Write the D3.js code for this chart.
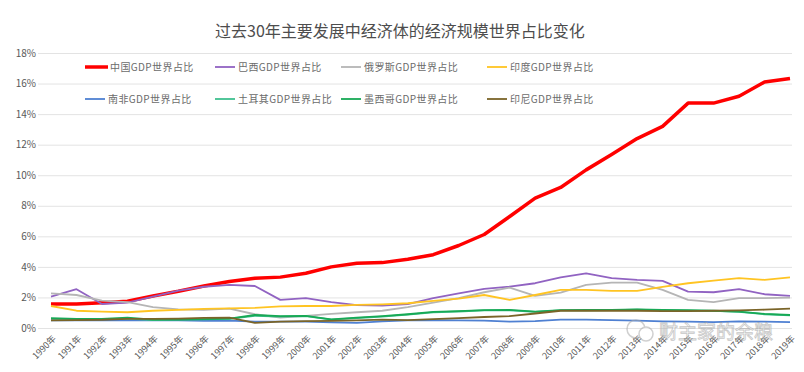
<!DOCTYPE html>
<head>
  <meta charset="utf-8">
  <style>
    body { margin: 0; background: #fff; }
    svg text { font-family: "Noto Sans CJK SC", "DejaVu Sans", sans-serif; }
    .grid line { stroke: #e3e3e3; stroke-width: 1; }
    .axis text { fill: #595959; font-size: 10px; }
    .legend text { fill: #6b6b6b; font-size: 10px; letter-spacing: 0.4px; }
  </style>
  <script src="https://d3js.org/d3.v7.min.js"></script>
</head>

<body>
  <div id="content"></div>
  <script>
  // years on the x axis
  var years = d3.range(1990, 2020);
  var yearLabels = years.map(function(y) { return y + "年"; });

  // share of world GDP, in percent
  var china = [1.57, 1.57, 1.65, 1.75, 2.1, 2.4, 2.75, 3.05, 3.25, 3.33, 3.58, 4.0, 4.24, 4.28, 4.5,
               4.8, 5.4, 6.12, 7.3, 8.5, 9.2, 10.35, 11.35, 12.4, 13.2, 14.72, 14.72, 15.17, 16.1, 16.33];
  var brazil = [2.05, 2.54, 1.57, 1.66, 2.05, 2.45, 2.7, 2.82, 2.75, 1.84, 1.95, 1.7, 1.5, 1.46, 1.57,
                1.95, 2.27, 2.56, 2.71, 2.93, 3.32, 3.58, 3.26, 3.15, 3.08, 2.38, 2.34, 2.54, 2.21, 2.1];
  var russia = [2.27, 2.16, 1.79, 1.7, 1.36, 1.22, 1.18, 1.27, 0.9, 0.68, 0.79, 0.92, 1.03, 1.13, 1.36,
                1.66, 1.95, 2.34, 2.64, 2.1, 2.31, 2.82, 2.97, 2.97, 2.49, 1.84, 1.69, 1.95, 1.95, 1.99];
  var india = [1.44, 1.13, 1.07, 1.03, 1.13, 1.18, 1.25, 1.29, 1.32, 1.42, 1.44, 1.44, 1.51, 1.55, 1.62,
               1.78, 1.92, 2.16, 1.84, 2.16, 2.49, 2.49, 2.43, 2.43, 2.69, 2.93, 3.1, 3.26, 3.15, 3.32];
  var southAfrica = [0.5, 0.5, 0.5, 0.5, 0.5, 0.5, 0.47, 0.48, 0.42, 0.42, 0.42, 0.37, 0.33, 0.43, 0.5,
                     0.52, 0.5, 0.48, 0.42, 0.45, 0.55, 0.55, 0.52, 0.48, 0.44, 0.42, 0.39, 0.43, 0.42, 0.38];
  var turkey = [0.6, 0.58, 0.58, 0.62, 0.52, 0.55, 0.56, 0.6, 0.8, 0.75, 0.78, 0.55, 0.65, 0.75, 0.88,
                1.02, 1.08, 1.15, 1.15, 1.05, 1.15, 1.16, 1.17, 1.2, 1.16, 1.14, 1.12, 1.05, 0.9, 0.83];
  var mexico = [0.64, 0.6, 0.6, 0.68, 0.55, 0.55, 0.58, 0.62, 0.85, 0.78, 0.8, 0.57, 0.68, 0.78, 0.9,
                1.05, 1.1, 1.17, 1.18, 1.07, 1.17, 1.18, 1.18, 1.22, 1.18, 1.17, 1.13, 1.07, 0.92, 0.85];
  var indonesia = [0.5, 0.52, 0.54, 0.6, 0.6, 0.62, 0.66, 0.68, 0.33, 0.42, 0.45, 0.47, 0.5, 0.55, 0.52,
                   0.58, 0.65, 0.72, 0.78, 0.95, 1.13, 1.13, 1.13, 1.13, 1.1, 1.1, 1.13, 1.16, 1.2, 1.27];

  var yTicks = [0, 2, 4, 6, 8, 10, 12, 14, 16, 18];

  var series = [
    {name: "中国GDP世界占比",   values: china,       color: "#ff0000", w: 3.5},
    {name: "巴西GDP世界占比",   values: brazil,      color: "#9163c2", w: 1.8},
    {name: "俄罗斯GDP世界占比", values: russia,      color: "#b5b5b5", w: 1.8},
    {name: "印度GDP世界占比",   values: india,       color: "#ffc422", w: 1.8},
    {name: "南非GDP世界占比",   values: southAfrica, color: "#4f80d2", w: 1.8},
    {name: "土耳其GDP世界占比", values: turkey,      color: "#3fc08f", w: 1.8},
    {name: "墨西哥GDP世界占比", values: mexico,      color: "#17a955", w: 1.8},
    {name: "印尼GDP世界占比",   values: indonesia,   color: "#7a6428", w: 1.8}
  ];

  var W = 804, H = 372;
  var gridLeft = 38, gridRight = 792;

  var x = d3.scalePoint().domain(yearLabels).range([51, 790]);
  var y = d3.scaleLinear().domain([0, 18]).range([328, 53]);

  var svg = d3.select("#content").append("svg")
      .attr("width", W)
      .attr("height", H);

  // title
  svg.append("text")
      .attr("x", 400)
      .attr("y", 37)
      .attr("text-anchor", "middle")
      .style("font-size", "16px")
      .style("fill", "#4d4d4d")
      .text("过去30年主要发展中经济体的经济规模世界占比变化");

  // horizontal grid
  svg.append("g")
      .attr("class", "grid")
    .selectAll("line")
      .data(yTicks)
    .enter().append("line")
      .attr("x1", gridLeft)
      .attr("x2", gridRight)
      .attr("y1", function(d) { return y(d) + 0.5; })
      .attr("y2", function(d) { return y(d) + 0.5; });

  // y axis
  var gy = svg.append("g")
      .attr("class", "axis")
      .attr("transform", "translate(36,0)")
      .call(d3.axisLeft(y).tickValues(yTicks).tickSize(0).tickPadding(0)
              .tickFormat(function(d) { return d + "%"; }));
  gy.select(".domain").remove();

  // x axis
  var gx = svg.append("g")
      .attr("class", "axis")
      .attr("transform", "translate(0,333)")
      .call(d3.axisBottom(x).tickSize(0));
  gx.select(".domain").remove();
  gx.selectAll("text")
      .style("font-size", "9px")
      .attr("text-anchor", "end")
      .attr("dy", "0.35em")
      .attr("y", 0)
      .attr("transform", "translate(3,4) rotate(-45)");

  // lines
  var line = d3.line()
      .x(function(d, i) { return x(yearLabels[i]); })
      .y(function(d) { return y(d); });

  svg.append("g").selectAll("path")
      .data(series)
    .enter().append("path")
      .attr("fill", "none")
      .attr("stroke", function(d) { return d.color; })
      .attr("stroke-width", function(d) { return d.w; })
      .attr("stroke-linejoin", "round")
      .attr("d", function(d) { return line(d.values); });

  // legend, two rows of four
  var legX = [85, 215, 341, 487], legY = [67, 99];
  var leg = svg.append("g").attr("class", "legend")
    .selectAll("g")
      .data(series)
    .enter().append("g")
      .attr("transform", function(d, i) {
        return "translate(" + legX[i % 4] + "," + legY[Math.floor(i / 4)] + ")";
      });
  leg.append("line")
      .attr("x1", 0)
      .attr("x2", function(d, i) { return i === 0 ? 23 : 20; })
      .attr("stroke", function(d) { return d.color; })
      .attr("stroke-width", function(d) { return d.w; });
  leg.append("text")
      .attr("x", function(d, i) { return i === 0 ? 25 : 23; })
      .attr("dy", "0.35em")
      .text(function(d) { return d.name; });

  // watermark
  var wm = svg.append("g").attr("opacity", 0.55);
  wm.append("circle").attr("cx", 636).attr("cy", 329).attr("r", 9)
      .attr("fill", "none").attr("stroke", "#aaa").attr("stroke-width", 1.5);
  wm.append("circle").attr("cx", 646).attr("cy", 334).attr("r", 7)
      .attr("fill", "#fff").attr("stroke", "#aaa").attr("stroke-width", 1.5);
  wm.append("text")
      .attr("x", 659)
      .attr("y", 339)
      .style("font-size", "19px")
      .style("fill", "#fff")
      .style("stroke", "#999")
      .style("stroke-width", 0.8)
      .text("财主家的余粮");
  </script>
</body>
</html>
